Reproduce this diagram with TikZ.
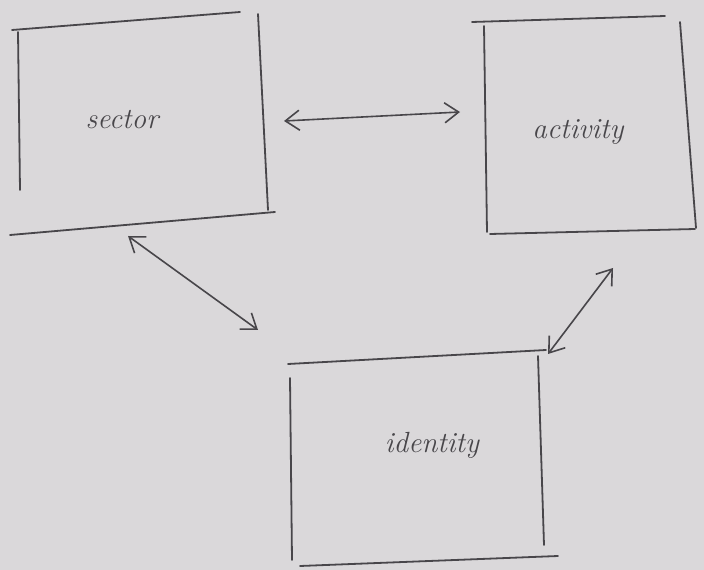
\documentclass[tikz,border=0pt]{standalone}
\usepackage{amsmath}
\usetikzlibrary{arrows.meta}

\definecolor{paper}{RGB}{218,216,218}
\definecolor{pencil}{RGB}{72,70,74}

\tikzset{
  edge/.style={pencil,line width=.045cm,line cap=round},
  link/.style={pencil,line width=.04cm,line cap=round,
    {Straight Barb[length=3.5mm,width=5mm]}-{Straight Barb[length=3.5mm,width=5mm]}},
  word/.style={pencil,font=\huge\itshape}
}

\begin{document}
\begin{tikzpicture}[x=0.025cm,y=-0.025cm]
    \fill[paper] (0,0) rectangle (704,570);
    % sector
    \draw[edge] (12,30) -- (240,12);
    \draw[edge] (18,32) -- (20,190);
    \draw[edge] (258,14) -- (268,210);
    \draw[edge] (10,235) -- (275,212);
    \node[word] (sector) at (122,120) {sector};
    % activity
    \draw[edge] (472,22) -- (665,16);
    \draw[edge] (484,26) -- (487,232);
    \draw[edge] (680,22) -- (696,228);
    \draw[edge] (490,234) -- (695,229);
    \node[word] (activity) at (578,132) {activity};
    % identity
    \draw[edge] (288,364) -- (546,350);
    \draw[edge] (290,378) -- (292,560);
    \draw[edge] (538,356) -- (544,545);
    \draw[edge] (300,566) -- (558,556);
    \node[word] (identity) at (432,445) {identity};
    % links
    \coordinate (s1) at (284,121);
    \coordinate (a1) at (460,112);
    \coordinate (s2) at (128,236);
    \coordinate (i1) at (258,330);
    \coordinate (a2) at (613,268);
    \coordinate (i2) at (548,354);
    \draw[link] (s1) -- (a1);
    \draw[link] (s2) -- (i1);
    \draw[link] (a2) -- (i2);
\end{tikzpicture}
\end{document}
